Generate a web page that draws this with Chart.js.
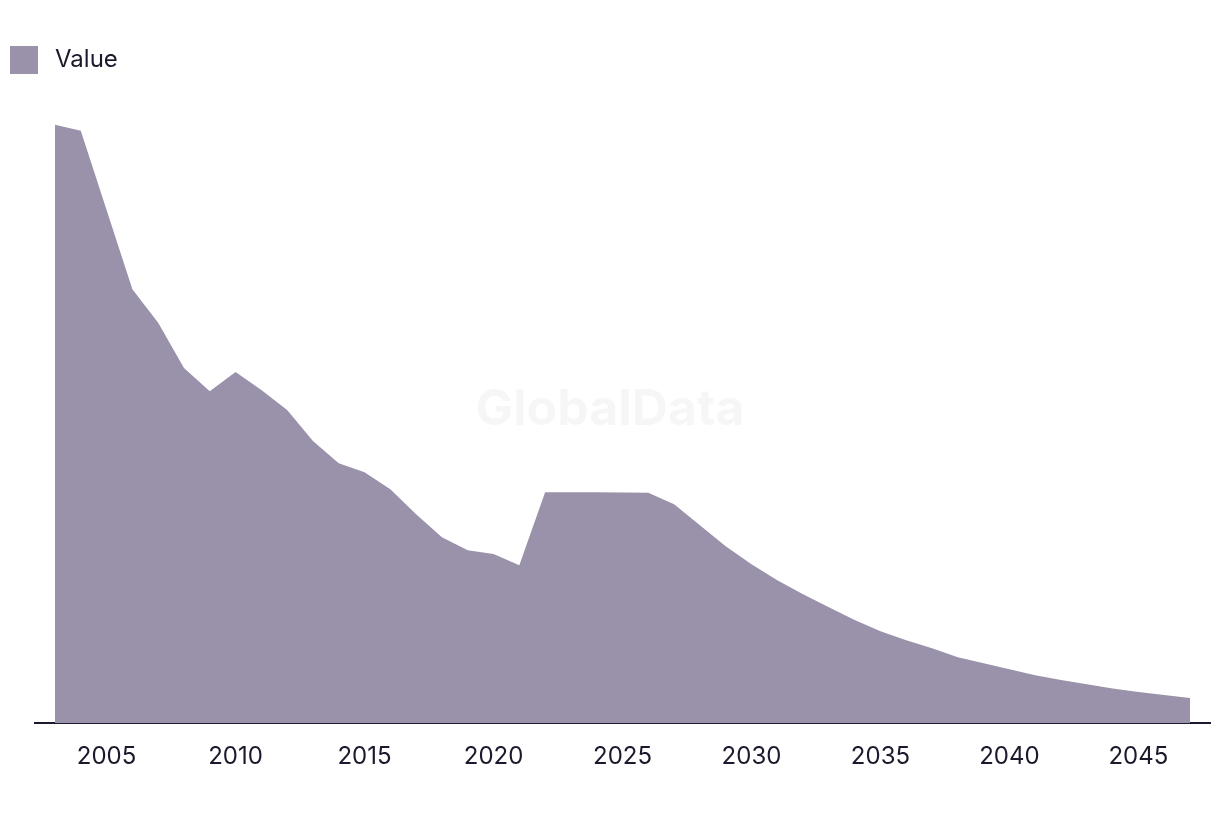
<!DOCTYPE html>
<html>
<head>
<meta charset="utf-8">
<script src="https://cdn.jsdelivr.net/npm/chart.js@4.4.1/dist/chart.umd.min.js"></script>
<style>
  html, body { margin: 0; padding: 0; background: #ffffff; }
  #wrap { width: 1220px; height: 816px; position: relative; }
</style>
</head>
<body>
<div id="wrap"><canvas id="c" width="1220" height="816"></canvas></div>
<script>
const years = [2003,2004,2005,2006,2007,2008,2009,2010,2011,2012,2013,2014,2015,2016,2017,2018,2019,2020,2021,2022,2023,2024,2025,2026,2027,2028,2029,2030,2031,2032,2033,2034,2035,2036,2037,2038,2039,2040,2041,2042,2043,2044,2045,2046,2047];
const values = [99.7,98.7,85.5,72.3,66.7,59.2,55.3,58.5,55.5,52.2,47.0,43.3,41.8,39.0,34.8,31.0,28.8,28.2,26.3,38.5,38.5,38.5,38.45,38.4,36.5,33.0,29.5,26.5,23.8,21.5,19.3,17.2,15.3,13.8,12.5,11.0,10.0,9.0,8.0,7.2,6.5,5.8,5.2,4.7,4.2];
const tickYears = [2005,2010,2015,2020,2025,2030,2035,2040,2045];
const seriesLabel = 'Value';

const FONT = 'Inter, "Liberation Sans", sans-serif';
const TEXT = '#1b1a2c';
const FILL = '#9a91aa';

const watermark = {
  id: 'watermark',
  beforeDatasetsDraw(chart) {
    const ctx = chart.ctx;
    ctx.save();
    ctx.font = 'bold 50px ' + FONT;
    ctx.fillStyle = 'rgba(0,0,0,0.035)';
    ctx.textAlign = 'center';
    ctx.textBaseline = 'middle';
    ctx.fillText('GlobalData', 610, 410);
    ctx.restore();
  }
};

// draws the 28px legend swatch inside the (wider, transparent) legend box slot
const legendSwatch = {
  id: 'legendSwatch',
  afterDraw(chart) {
    const lg = chart.legend;
    if (!lg || !lg.legendHitBoxes || !lg.legendHitBoxes.length) return;
    const hb = lg.legendHitBoxes[0];
    const ctx = chart.ctx;
    ctx.save();
    ctx.fillStyle = chart.data.datasets[0].backgroundColor;
    const size = 28;
    ctx.fillRect(hb.left, hb.top + (hb.height - size) / 2, size, size);
    ctx.restore();
  }
};

new Chart(document.getElementById('c'), {
  type: 'line',
  data: {
    datasets: [{
      label: seriesLabel,
      data: years.map((y, i) => ({ x: y, y: values[i] })),
      backgroundColor: FILL,
      borderColor: FILL,
      borderWidth: 0,
      pointRadius: 0,
      fill: 'origin',
      tension: 0
    }]
  },
  options: {
    responsive: false,
    animation: false,
    layout: { padding: { left: 0, right: 10, top: 36, bottom: 26 } },
    plugins: {
      legend: {
        display: true,
        position: 'top',
        align: 'start',
        labels: {
          boxWidth: 33,
          boxHeight: 28,
          padding: 10,
          color: TEXT,
          font: { family: FONT, size: 24 },
          generateLabels(chart) {
            return chart.data.datasets.map((ds, i) => ({
              text: ds.label,
              fillStyle: 'rgba(0,0,0,0)',
              strokeStyle: 'rgba(0,0,0,0)',
              lineWidth: 0,
              fontColor: TEXT,
              hidden: false,
              datasetIndex: i
            }));
          }
        }
      },
      tooltip: { enabled: false }
    },
    scales: {
      x: {
        type: 'linear',
        min: 2002.225,
        max: 2047.775,
        afterBuildTicks(axis) { axis.ticks = tickYears.map(v => ({ value: v })); },
        grid: { display: false, drawTicks: false },
        border: { display: true, color: TEXT, width: 2 },
        ticks: {
          padding: 19,
          color: TEXT,
          font: { family: FONT, size: 24 },
          maxRotation: 0,
          autoSkip: false,
          callback: v => String(v)
        }
      },
      y: {
        display: true,
        min: 0,
        max: 106.5,
        grid: { display: false, drawTicks: false },
        border: { display: false },
        ticks: { display: false },
        afterFit(axis) { axis.width = 35; }
      }
    }
  },
  plugins: [watermark, legendSwatch]
});
</script>
</body>
</html>
